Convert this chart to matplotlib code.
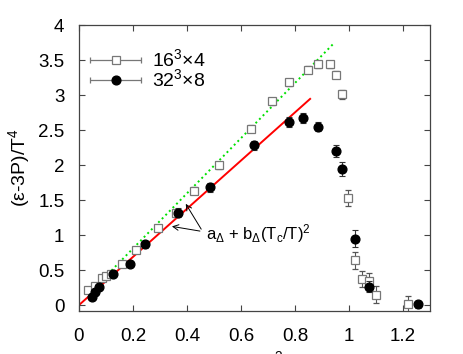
import numpy as np
import matplotlib
matplotlib.use('Agg')
import matplotlib.pyplot as plt
from matplotlib.container import ErrorbarContainer
from matplotlib.legend_handler import HandlerErrorbar

plt.rcParams['font.family'] = ['Liberation Sans', 'DejaVu Sans']
plt.rcParams['mathtext.fontset'] = 'custom'
plt.rcParams['mathtext.rm'] = 'Liberation Sans'
plt.rcParams['mathtext.it'] = 'Liberation Sans'

# 16^3x4 (open squares)
x16 = [0.035, 0.061, 0.087, 0.099, 0.117, 0.158, 0.212, 0.294, 0.358, 0.426,
       0.518, 0.636, 0.715, 0.778, 0.848, 0.886, 0.930, 0.952, 0.975,
       0.997, 1.022, 1.047, 1.073, 1.101, 1.220]
y16 = [0.21, 0.27, 0.38, 0.41, 0.44, 0.59, 0.79, 1.10, 1.31, 1.63,
       2.00, 2.52, 2.91, 3.18, 3.36, 3.44, 3.44, 3.29, 3.01,
       1.53, 0.64, 0.37, 0.35, 0.15, 0.01]
e16 = [0.03, 0.03, 0.03, 0.03, 0.03, 0.03, 0.04, 0.04, 0.05, 0.05,
       0.05, 0.05, 0.05, 0.05, 0.05, 0.05, 0.05, 0.05, 0.06,
       0.12, 0.12, 0.11, 0.11, 0.12, 0.12]

# 32^3x8 (filled circles)
x32 = [0.047, 0.059, 0.075, 0.127, 0.189, 0.244, 0.365, 0.485, 0.648,
       0.778, 0.830, 0.886, 0.952, 0.974, 1.021, 1.073, 1.254]
y32 = [0.12, 0.19, 0.26, 0.44, 0.58, 0.87, 1.32, 1.68, 2.28,
       2.62, 2.67, 2.55, 2.20, 1.94, 0.95, 0.26, 0.01]
e32 = [0.03, 0.03, 0.03, 0.04, 0.04, 0.05, 0.06, 0.06, 0.07,
       0.07, 0.07, 0.07, 0.08, 0.10, 0.12, 0.08, 0.05]

# fits a + b (Tc/T)^2 : (a, b, x start, x end)
fit_red = (0.0, 3.44, 0.0, 0.856)
fit_green = (0.02, 3.94, 0.08, 0.942)

fig = plt.figure(figsize=(4.63, 3.54), dpi=100)
ax = fig.add_axes([79/463, 1 - 311/354, (430-79)/463, (311-25)/354])

for a, b, x0, x1, col, ls in [(*fit_red, 'red', '-'), (*fit_green, '#00e000', ':')]:
    xx = np.array([x0, x1])
    ax.plot(xx, a + b*xx, color=col, ls=ls, lw=1.4, zorder=2)

ax.errorbar(x16, y16, yerr=e16, fmt='s', ms=5.8, mfc='white', mec='#777777',
            mew=0.9, ecolor='#555555', elinewidth=0.8, capsize=2, capthick=0.8, zorder=3)
ax.errorbar(x32, y32, yerr=e32, fmt='o', ms=6.3, mfc='black', mec='black',
            ecolor='#333333', elinewidth=0.8, capsize=2, capthick=0.8, zorder=4)

# legend proxies with horizontal bars
h1 = ax.errorbar([np.nan], [np.nan], xerr=[1], fmt='s', ms=5.8, mfc='white', mec='#777777',
                 mew=0.9, ecolor='#777777', elinewidth=0.9, capsize=2.5, capthick=0.9)
h2 = ax.errorbar([np.nan], [np.nan], xerr=[1], fmt='o', ms=6.3, mfc='black', mec='black',
                 ecolor='#777777', elinewidth=0.9, capsize=2.5, capthick=0.9)
ax.legend([h1, h2], ['16$^3$×4', '32$^3$×8'], loc='upper left',
          bbox_to_anchor=(0.031, 0.918), frameon=False, fontsize=14,
          borderpad=0, borderaxespad=0,
          handlelength=2.65, handletextpad=0.55, labelspacing=-0.1,
          handler_map={ErrorbarContainer: HandlerErrorbar(xerr_size=1.32)})

ax.annotate('', xy=(0.39, 1.48), xytext=(0.458, 1.05),
            arrowprops=dict(arrowstyle='->', color='black', lw=0.7))
ax.annotate('', xy=(0.334, 1.13), xytext=(0.458, 1.05),
            arrowprops=dict(arrowstyle='->', color='black', lw=0.7))
ax.text(0.47, 1.02, r'a$_\Delta$ + b$_\Delta$(T$_c$/T)$^2$', fontsize=12, va='center', ha='left')

ax.set_xlim(0, 1.3)
ax.set_ylim(-0.085, 4)
ax.set_xticks([0, 0.2, 0.4, 0.6, 0.8, 1.0, 1.2])
ax.set_xticklabels(['0', '0.2', '0.4', '0.6', '0.8', '1', '1.2'])
ax.set_yticks([0, 0.5, 1, 1.5, 2, 2.5, 3, 3.5, 4])
ax.set_yticklabels(['0', '0.5', '1', '1.5', '2', '2.5', '3', '3.5', '4'])
ax.tick_params(direction='in', top=True, right=True, length=4, width=0.8,
               labelsize=13.5, color='#444444')
ax.tick_params(axis='x', pad=12.5)
ax.tick_params(axis='y', pad=10.5)
for s in ax.spines.values():
    s.set_linewidth(0.9)
    s.set_color('#444444')
ax.set_ylabel('(ε-3P)/T$^4$', fontsize=14)
ax.yaxis.set_label_coords(-0.134, 0.5)
ax.set_xlabel('(T$_c$/T)$^2$', fontsize=14)
ax.xaxis.set_label_coords(0.5, -0.132)

fig.savefig('out.png', dpi=100)
